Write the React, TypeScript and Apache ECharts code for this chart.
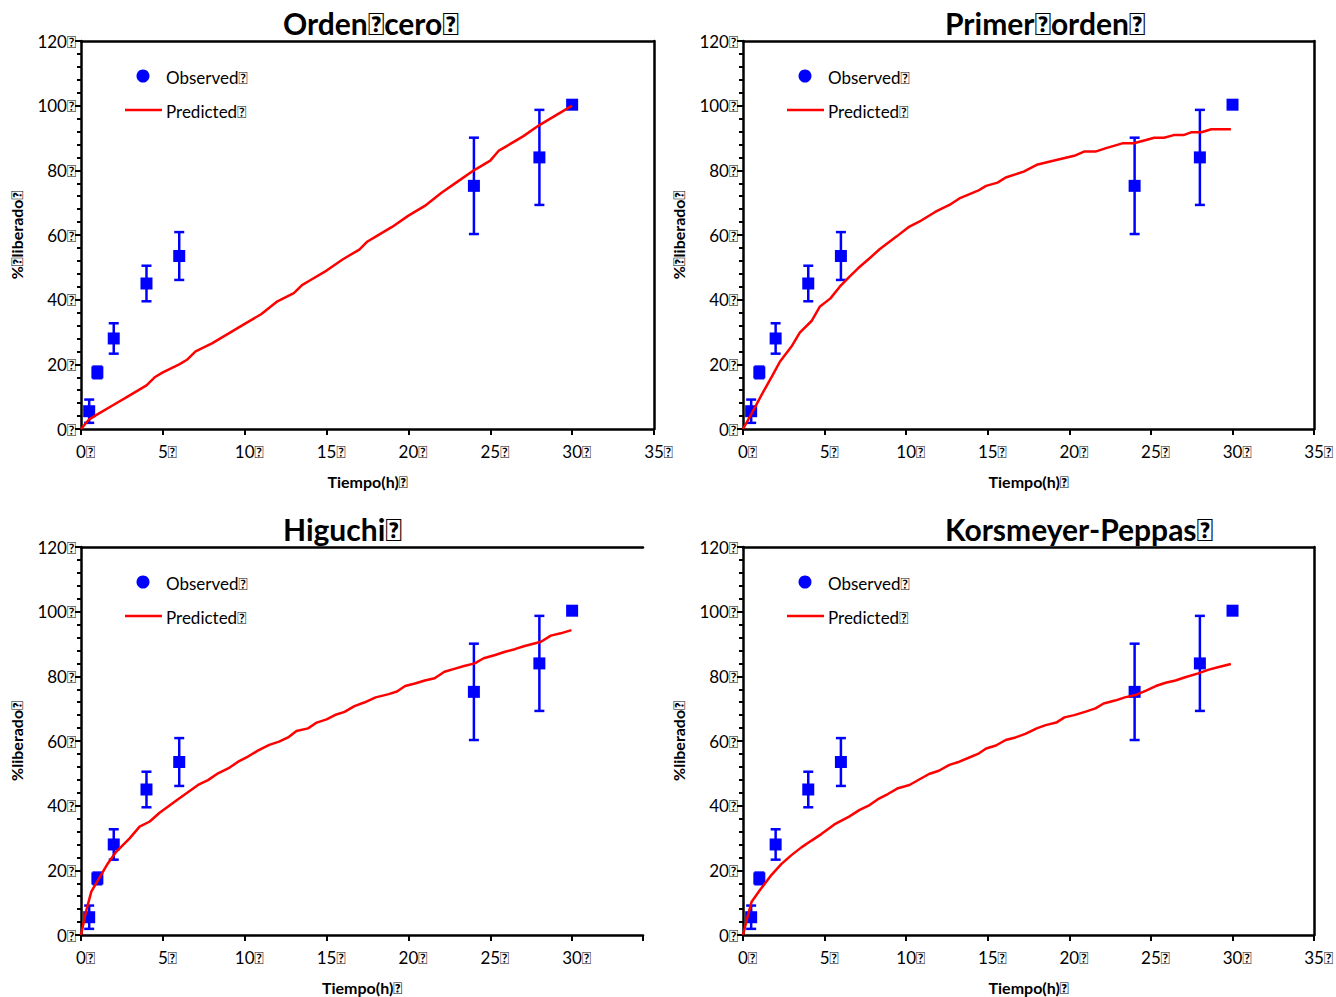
import React, { useEffect, useRef } from 'react';
import * as echarts from 'echarts';

const BOX = '\uF020';

// Observed data (shared by all four panels)
const obsTime = [0.5, 1, 2, 4, 6, 24, 28, 30];
const obsRelease = [5.5, 17.5, 28, 45, 53.5, 75.2, 84, 100.3];
const obsError = [3.6, 1.8, 4.7, 5.5, 7.4, 14.9, 14.7, 0];

// Predicted: zero order
const zeroT = [0, 0.5, 1, 2, 3, 4, 4.5, 5, 6, 6.5, 7, 8, 9, 10, 11, 12, 13, 13.5, 14, 15, 16, 17, 17.5, 18, 19, 20, 21, 22, 23, 24, 25, 25.5, 26, 27, 28, 29, 30];
const zeroY = [0, 3, 4.5, 7.5, 10.5, 13.5, 16, 17.5, 20, 21.5, 24, 26.5, 29.5, 32.5, 35.5, 39.5, 42, 44.5, 46, 49, 52.5, 55.5, 58, 59.5, 62.5, 66, 69, 73, 76.5, 80, 83, 86, 87.5, 90.5, 94, 97, 100];

// Predicted: first order
const firstT = [0, 0.5, 1.24, 1.8, 2.26, 2.97, 3.48, 4.2, 4.7, 5.36, 5.93, 6.5, 7.05, 7.76, 8.37, 9.4, 10.2, 10.8, 11.8, 12.65, 13.26, 14.4, 14.9, 15.6, 16.1, 17.2, 18.0, 19.2, 20.3, 20.9, 21.6, 22.2, 23.3, 23.95, 24.7, 25.2, 25.8, 26.4, 27.0, 27.5, 28.1, 28.7, 29.9];
const firstY = [0, 4.5, 11.5, 16.5, 20.8, 25.5, 29.8, 33.4, 37.8, 40.4, 44, 47, 49.7, 52.8, 55.6, 59.5, 62.6, 64.1, 67.2, 69.3, 71.3, 73.7, 75.2, 76.2, 77.8, 79.6, 81.7, 83.2, 84.5, 85.8, 85.8, 86.8, 88.4, 88.4, 89.4, 90.1, 90.1, 90.9, 90.9, 91.8, 91.8, 92.7, 92.7];

// Predicted: Higuchi
const higT = [0, 0.33, 0.63, 1.04, 1.65, 2.16, 2.97, 3.58, 4.2, 4.8, 5.93, 7.15, 7.76, 8.37, 9.08, 9.6, 10.2, 10.8, 11.5, 12.1, 12.65, 13.16, 13.87, 14.4, 15.0, 15.6, 16.1, 16.7, 17.3, 18.0, 18.8, 19.3, 19.8, 20.4, 21.0, 21.6, 22.2, 22.8, 23.4, 24.05, 24.6, 25.3, 25.9, 26.5, 27.1, 28.1, 28.7, 29.3, 29.96];
const higY = [0, 7.7, 13.4, 17, 22.2, 25.8, 29.9, 33.5, 35.1, 37.8, 42, 46.4, 47.9, 50, 51.8, 53.6, 55.2, 57, 58.8, 59.8, 61.1, 63.1, 63.9, 65.7, 66.7, 68.2, 69, 70.8, 71.9, 73.5, 74.5, 75.3, 77, 77.8, 78.7, 79.4, 81.4, 82.3, 83.2, 84, 85.6, 86.6, 87.6, 88.4, 89.4, 90.7, 92.6, 93.3, 94.3];

// Predicted: Korsmeyer-Peppas
const kpT = [0, 0.26, 0.53, 1.04, 1.75, 2.36, 2.97, 3.58, 4.2, 4.8, 5.6, 6.5, 7.15, 7.76, 8.27, 8.88, 9.5, 10.2, 10.8, 11.4, 12.0, 12.65, 13.26, 13.87, 14.4, 14.9, 15.5, 16.1, 16.7, 17.3, 18.0, 18.55, 19.2, 19.7, 20.3, 21.0, 21.6, 22.1, 22.8, 23.4, 24.05, 24.7, 25.3, 25.9, 26.5, 27.1, 27.9, 28.5, 29.1, 29.9];
const kpY = [0, 5.2, 10.3, 13.9, 18.6, 22, 24.7, 27.1, 29.2, 31.2, 34.2, 36.6, 38.7, 40.2, 42, 43.6, 45.4, 46.4, 48.1, 49.8, 50.8, 52.6, 53.6, 54.9, 56, 57.7, 58.6, 60.3, 61.1, 62.2, 63.9, 64.9, 65.7, 67.3, 68, 69.1, 70.1, 71.6, 72.5, 73.5, 74.2, 75.6, 77, 78, 78.7, 79.7, 80.9, 82, 82.8, 83.8];

const panelTitles = ['Orden' + BOX + 'cero' + BOX, 'Primer' + BOX + 'orden' + BOX, 'Higuchi' + BOX, 'Korsmeyer-Peppas' + BOX];
const yAxisNames = ['%' + BOX + 'liberado' + BOX, '%' + BOX + 'liberado' + BOX, '%liberado' + BOX, '%liberado' + BOX];
const xAxisName = 'Tiempo(h)' + BOX;
const seriesNames = ['Observed' + BOX, 'Predicted' + BOX];
const predT = [zeroT, firstT, higT, kpT];
const predY = [zeroY, firstY, higY, kpY];
const xMaxes = [35, 35, 34.33, 35];
const yTicks = [0, 20, 40, 60, 80, 100, 120];
const xTicks = [0, 5, 10, 15, 20, 25, 30, 35];

const FONT = 'Lato, "Open Sans", sans-serif';

// layout
const grids = [
  { left: 81, top: 41, width: 573, height: 388, titleX: 283, titleY: 8, rightBorder: true },
  { left: 743, top: 41, width: 572, height: 388, titleX: 945, titleY: 8, rightBorder: true },
  { left: 81, top: 547, width: 562, height: 388, titleX: 283, titleY: 514, rightBorder: false },
  { left: 743, top: 547, width: 572, height: 388, titleX: 945, titleY: 514, rightBorder: true },
];

function buildOption() {
  const grid: any[] = [];
  const xAxis: any[] = [];
  const yAxis: any[] = [];
  const series: any[] = [];
  const title: any[] = [];
  const graphic: any[] = [];

  grids.forEach((g, i) => {
    grid.push({ left: g.left, top: g.top, width: g.width, height: g.height, containLabel: false });
    title.push({
      text: panelTitles[i],
      left: g.titleX,
      top: g.titleY,
      textStyle: { fontFamily: FONT, fontWeight: 'bold', fontSize: 30, color: '#000' },
      padding: 0,
    });
    const xb = xAxis.length;
    xAxis.push({
      type: 'value', gridIndex: i, min: 0, max: xMaxes[i], interval: 5,
      position: 'bottom',
      name: xAxisName, nameLocation: 'middle', nameGap: 44,
      nameTextStyle: { fontFamily: FONT, fontWeight: 'bold', fontSize: 16, color: '#000' },
      axisLine: { show: true, onZero: false, lineStyle: { color: '#000', width: 2.5 } },
      axisTick: { show: true, inside: false, length: 6, lineStyle: { color: '#000', width: 2 } },
      axisLabel: {
        show: true, margin: 14, color: '#000', fontFamily: FONT, fontSize: 17,
        formatter: (v: number) => xTicks.includes(v) ? '{h|' + BOX + '}' + v + BOX : '',
        rich: { h: { color: 'rgba(0,0,0,0)', fontFamily: FONT, fontSize: 17 } },
      },
      splitLine: { show: false },
    });
    xAxis.push({
      type: 'value', gridIndex: i, min: 0, max: xMaxes[i], position: 'top',
      axisLine: { show: true, onZero: false, lineStyle: { color: '#000', width: 2.5 } },
      axisTick: { show: false }, axisLabel: { show: false }, splitLine: { show: false },
    });
    const yb = yAxis.length;
    yAxis.push({
      type: 'value', gridIndex: i, min: 0, max: 120, interval: 20, position: 'left',
      name: yAxisNames[i], nameLocation: 'middle', nameGap: 57,
      nameTextStyle: { fontFamily: FONT, fontWeight: 'bold', fontSize: 16, color: '#000' },
      axisLine: { show: true, onZero: false, lineStyle: { color: '#000', width: 2.5 } },
      axisTick: { show: true, inside: false, length: 6, lineStyle: { color: '#000', width: 2 } },
      minorTick: { show: true, splitNumber: 5, length: 4, lineStyle: { color: '#000', width: 2 } },
      axisLabel: {
        show: true, margin: 5, color: '#000', fontFamily: FONT, fontSize: 17,
        formatter: (v: number) => yTicks.includes(v) ? v + BOX : '',
      },
      splitLine: { show: false },
    });
    if (g.rightBorder) {
      yAxis.push({
        type: 'value', gridIndex: i, min: 0, max: 120, position: 'right',
        axisLine: { show: true, onZero: false, lineStyle: { color: '#000', width: 2.5 } },
        axisTick: { show: false }, axisLabel: { show: false }, splitLine: { show: false },
      });
    }

    // error bars
    series.push({
      type: 'custom',
      name: 'err' + i,
      xAxisIndex: xb, yAxisIndex: yb,
      z: 3,
      encode: { x: 0, y: 1 },
      data: obsTime.map((t, k) => [t, obsRelease[k], obsError[k]]),
      renderItem: (params: any, api: any) => {
        const x = api.value(0);
        const y = api.value(1);
        const e = api.value(2);
        if (!e) return { type: 'group', children: [] };
        const top = api.coord([x, y + e]);
        const bot = api.coord([x, y - e]);
        const hw = 5;
        const st = { stroke: '#0000FF', lineWidth: 2.5 };
        return {
          type: 'group',
          children: [
            { type: 'line', shape: { x1: top[0], y1: top[1], x2: bot[0], y2: bot[1] }, style: st },
            { type: 'line', shape: { x1: top[0] - hw, y1: top[1], x2: top[0] + hw, y2: top[1] }, style: st },
            { type: 'line', shape: { x1: bot[0] - hw, y1: bot[1], x2: bot[0] + hw, y2: bot[1] }, style: st },
          ],
        };
      },
      silent: true,
    });
    series.push({
      type: 'scatter',
      name: seriesNames[0],
      xAxisIndex: xb, yAxisIndex: yb,
      symbol: 'rect', symbolSize: 12,
      itemStyle: { color: '#0000FF', opacity: 1 },
      z: 4,
      data: obsTime.map((t, k) => [t, obsRelease[k]]),
    });
    series.push({
      type: 'line',
      name: seriesNames[1],
      xAxisIndex: xb, yAxisIndex: yb,
      showSymbol: false, symbol: 'none',
      lineStyle: { color: '#FF0000', width: 2.5 },
      itemStyle: { color: '#FF0000' },
      z: 5,
      data: predT[i].map((t, k) => [t, predY[i][k]]),
    });

    // legend (drawn)
    const lx = g.left;
    const ly = g.top;
    graphic.push({ type: 'circle', shape: { cx: lx + 62, cy: ly + 35, r: 6.5 }, style: { fill: '#0000FF' } });
    graphic.push({ type: 'text', x: lx + 85, y: ly + 36, style: { text: seriesNames[0], fontFamily: FONT, fontSize: 17, fill: '#000', verticalAlign: 'middle' } });
    graphic.push({ type: 'line', shape: { x1: lx + 44, y1: ly + 69, x2: lx + 81, y2: ly + 69 }, style: { stroke: '#FF0000', lineWidth: 2.5 } });
    graphic.push({ type: 'text', x: lx + 85, y: ly + 70, style: { text: seriesNames[1], fontFamily: FONT, fontSize: 17, fill: '#000', verticalAlign: 'middle' } });
  });

  return {
    animation: false,
    backgroundColor: '#fff',
    textStyle: { fontFamily: FONT },
    title, grid, xAxis, yAxis, series, graphic,
  };
}

export default function App() {
  const ref = useRef<HTMLDivElement>(null);
  useEffect(() => {
    if (!ref.current) return;
    const chart = echarts.init(ref.current, undefined, { renderer: 'svg' });
    chart.setOption(buildOption() as any);
    return () => chart.dispose();
  }, []);
  return (
    <div
      ref={ref}
      style={{ position: 'absolute', left: 0, top: 0, width: 1336, height: 997, background: '#fff' }}
    />
  );
}
